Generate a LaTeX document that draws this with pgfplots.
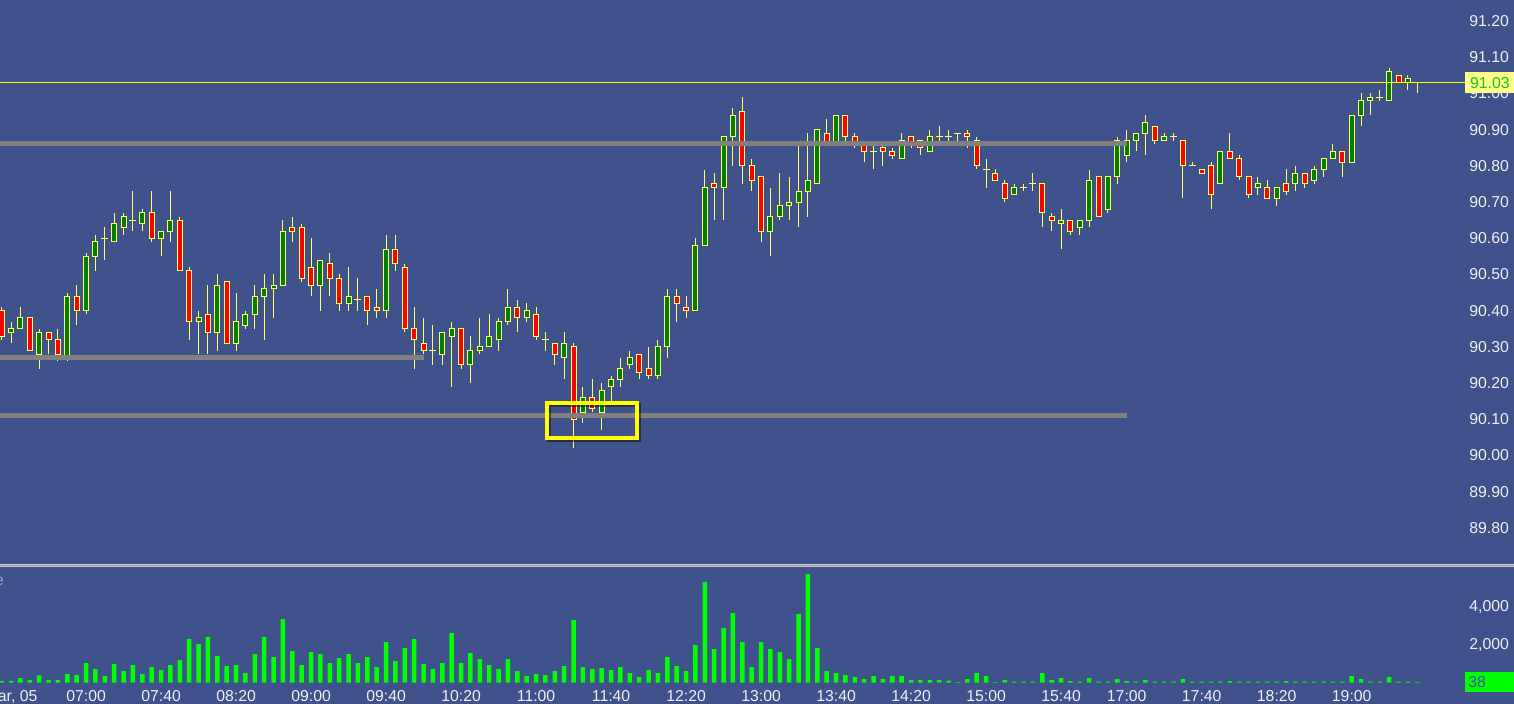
\documentclass[border=0pt]{standalone}
\usepackage{pgfplots}
\pgfplotsset{compat=1.18}
\usepackage{pgfplotstable}
\usepackage{fontspec}
\setmainfont{Liberation Sans}
\definecolor{bg}{RGB}{64,82,140}
\definecolor{wick}{RGB}{255,255,102}
\definecolor{cup}{RGB}{0,128,0}
\definecolor{cdn}{RGB}{255,0,0}
\definecolor{vol}{RGB}{0,255,0}
\definecolor{lvl}{RGB}{128,128,128}
\definecolor{hl}{RGB}{255,255,0}
\definecolor{lastbox}{RGB}{255,255,140}
\definecolor{lasttxt}{RGB}{20,200,20}
\definecolor{ticktxt}{RGB}{240,240,240}
\definecolor{voltxt}{RGB}{70,80,170}
\definecolor{voltag}{RGB}{150,160,200}
\definecolor{sepl}{RGB}{205,205,215}
\definecolor{sepd}{RGB}{150,150,165}

\pgfplotstableread{
i o h l c v
0 90.40 90.41 90.32 90.33 90
1 90.34 90.37 90.31 90.35 90
2 90.35 90.41 90.35 90.38 245
3 90.38 90.38 90.29 90.29 140
4 90.28 90.35 90.24 90.34 385
5 90.34 90.34 90.28 90.32 140
6 90.32 90.35 90.26 90.28 140
7 90.27 90.45 90.26 90.44 456
8 90.44 90.47 90.36 90.40 403
9 90.40 90.56 90.39 90.55 1035
10 90.55 90.61 90.51 90.59 719
11 90.60 90.63 90.54 90.60 351
12 90.59 90.67 90.59 90.64 982
13 90.63 90.67 90.61 90.66 614
14 90.65 90.73 90.62 90.65 930
15 90.64 90.68 90.62 90.67 456
16 90.67 90.73 90.59 90.60 824
17 90.60 90.62 90.55 90.62 667
18 90.62 90.73 90.59 90.65 930
19 90.65 90.66 90.51 90.51 1193
20 90.51 90.52 90.32 90.37 2298
21 90.37 90.40 90.28 90.38 2035
22 90.39 90.47 90.28 90.34 2403
23 90.34 90.50 90.29 90.47 1403
24 90.48 90.48 90.31 90.31 877
25 90.31 90.45 90.29 90.37 930
26 90.36 90.40 90.35 90.39 509
27 90.39 90.47 90.35 90.44 1508
28 90.44 90.50 90.32 90.46 2403
29 90.46 90.50 90.38 90.47 1351
30 90.47 90.65 90.47 90.62 3350
31 90.63 90.66 90.59 90.62 1666
32 90.63 90.64 90.48 90.49 930
33 90.52 90.60 90.44 90.47 1614
34 90.47 90.54 90.40 90.54 1508
35 90.53 90.56 90.44 90.49 1035
36 90.49 90.50 90.40 90.42 1298
37 90.42 90.52 90.40 90.44 1508
38 90.43 90.49 90.40 90.43 1035
39 90.44 90.44 90.36 90.40 1351
40 90.41 90.46 90.38 90.40 824
41 90.40 90.61 90.38 90.57 2140
42 90.57 90.61 90.51 90.53 1140
43 90.52 90.53 90.34 90.35 1824
44 90.35 90.41 90.24 90.32 2298
45 90.31 90.38 90.28 90.29 982
46 90.29 90.36 90.25 90.29 719
47 90.28 90.34 90.25 90.34 1035
48 90.33 90.37 90.19 90.35 2614
49 90.35 90.35 90.24 90.25 1035
50 90.25 90.33 90.20 90.29 1561
51 90.29 90.38 90.28 90.30 1245
52 90.30 90.39 90.30 90.33 930
53 90.32 90.38 90.29 90.37 719
54 90.37 90.46 90.36 90.41 1245
55 90.41 90.43 90.34 90.38 614
56 90.38 90.42 90.37 90.40 351
57 90.39 90.41 90.32 90.33 456
58 90.32 90.34 90.29 90.32 403
59 90.31 90.31 90.25 90.28 614
60 90.27 90.34 90.21 90.31 877
61 90.30 90.31 90.02 90.10 3298
62 90.12 90.19 90.09 90.16 824
63 90.16 90.21 90.12 90.13 719
64 90.12 90.20 90.07 90.18 772
65 90.19 90.22 90.15 90.21 667
66 90.21 90.27 90.19 90.24 824
67 90.25 90.29 90.24 90.27 509
68 90.28 90.28 90.21 90.23 298
69 90.24 90.30 90.21 90.22 667
70 90.22 90.32 90.21 90.30 509
71 90.30 90.46 90.27 90.44 1351
72 90.44 90.46 90.37 90.42 877
73 90.41 90.44 90.38 90.40 614
74 90.40 90.60 90.40 90.58 1982
75 90.58 90.79 90.58 90.74 5298
76 90.75 90.78 90.65 90.74 1772
77 90.74 90.88 90.65 90.88 2877
78 90.88 90.96 90.80 90.94 3666
79 90.95 90.99 90.75 90.80 2140
80 90.80 90.82 90.73 90.76 824
81 90.77 90.77 90.59 90.62 2140
82 90.62 90.74 90.55 90.66 1772
83 90.66 90.78 90.65 90.69 1614
84 90.69 90.77 90.65 90.70 1245
85 90.70 90.87 90.63 90.73 3613
86 90.73 90.89 90.66 90.76 5719
87 90.75 90.90 90.75 90.90 1824
88 90.89 90.93 90.86 90.86 614
89 90.86 90.94 90.86 90.94 509
90 90.94 90.94 90.86 90.88 403
91 90.88 90.89 90.85 90.86 298
92 90.86 90.86 90.81 90.84 193
93 90.84 90.86 90.79 90.84 351
94 90.85 90.86 90.80 90.84 193
95 90.84 90.85 90.82 90.83 351
96 90.82 90.89 90.82 90.87 351
97 90.88 90.88 90.85 90.86 140
98 90.87 90.87 90.83 90.85 140
99 90.84 90.90 90.84 90.88 140
100 90.88 90.91 90.87 90.88 140
101 90.88 90.90 90.87 90.88 105
102 90.89 90.89 90.87 90.89 35
103 90.89 90.90 90.85 90.88 193
104 90.87 90.88 90.79 90.80 509
105 90.79 90.82 90.74 90.79 351
106 90.78 90.79 90.76 90.76 35
107 90.75 90.76 90.70 90.71 140
108 90.72 90.75 90.72 90.74 50
109 90.74 90.75 90.73 90.74 50
110 90.75 90.78 90.73 90.75 50
111 90.75 90.75 90.63 90.67 509
112 90.66 90.67 90.62 90.65 140
113 90.64 90.68 90.57 90.65 245
114 90.65 90.65 90.61 90.62 88
115 90.63 90.65 90.61 90.65 50
116 90.65 90.79 90.63 90.76 245
117 90.77 90.77 90.66 90.66 50
118 90.68 90.77 90.67 90.77 50
119 90.77 90.88 90.75 90.87 193
120 90.83 90.90 90.81 90.87 88
121 90.87 90.89 90.84 90.89 50
122 90.89 90.94 90.83 90.92 140
123 90.91 90.91 90.86 90.87 50
124 90.87 90.89 90.87 90.88 50
125 90.88 90.89 90.87 90.88 50
126 90.87 90.87 90.71 90.80 193
127 90.80 90.81 90.80 90.80 50
128 90.79 90.79 90.78 90.78 50
129 90.80 90.81 90.68 90.72 50
130 90.75 90.84 90.75 90.84 50
131 90.84 90.89 90.82 90.82 88
132 90.82 90.83 90.76 90.77 50
133 90.77 90.77 90.71 90.72 50
134 90.74 90.77 90.72 90.75 50
135 90.74 90.76 90.71 90.71 50
136 90.71 90.74 90.69 90.74 50
137 90.75 90.79 90.72 90.73 88
138 90.75 90.80 90.73 90.78 50
139 90.78 90.78 90.74 90.75 50
140 90.76 90.80 90.75 90.79 50
141 90.79 90.82 90.77 90.82 50
142 90.82 90.86 90.82 90.84 50
143 90.84 90.84 90.77 90.81 50
144 90.81 90.94 90.81 90.94 351
145 90.94 91.00 90.91 90.98 193
146 90.98 91.00 90.94 90.99 50
147 90.99 91.01 90.98 90.99 50
148 90.98 91.07 90.98 91.06 298
149 91.05 91.05 91.03 91.03 50
150 91.03 91.05 91.01 91.04 50
151 91.03 91.03 91.00 91.03 38
}\candles

\newcommand\lblfont{\fontsize{7.9}{9}\selectfont}
\pgfplotsset{
  nomark/.style={only marks, mark=*, mark size=0pt, mark options={draw=none, fill=none}, forget plot},
  cndl/.style={nomark,
    error bars/y dir=plus, error bars/y explicit, error bars/error mark=none},
}

\begin{document}
\begin{tikzpicture}
\fill[bg] (0,0) rectangle (757pt,352pt);
\useasboundingbox (0,0) rectangle (757pt,352pt);
\fill[sepl] (0,68.35pt) rectangle (757pt,69.85pt);
\fill[sepd] (0,68.85pt) rectangle (757pt,69.35pt);

\begin{axis}[
  at={(0pt,69.5pt)}, anchor=south west,
  x=4.6875pt, y=181pt,
  xmin=-0.18, xmax=156.08, ymin=89.6975, ymax=91.2583,
  axis line style={draw=none}, tick style={draw=none}, major tick length=0pt,
  xtick=\empty,
  ytick={89.8,89.9,90,90.1,90.2,90.3,90.4,90.5,90.6,90.7,90.8,90.9,91,91.1,91.2},
  yticklabel pos=right,
  yticklabel style={anchor=west, inner sep=0pt, xshift=2pt, font=\lblfont, text=ticktxt,
     /pgf/number format/fixed, /pgf/number format/fixed zerofill,
     /pgf/number format/precision=2, /pgf/number format/assume math mode=true},
  extra y ticks={91.03},
  extra y tick style={yticklabel style={xshift=-2pt, fill=lastbox, text=lasttxt,
     minimum width=24.5pt, minimum height=10.5pt}},
]
% wicks
\addplot[cndl, error bars/error bar style={draw=wick, line width=0.5pt}]
  table[x=i, y=l, y error expr=\thisrow{h}-\thisrow{l}] {\candles};
% rising bodies
\addplot[cndl, error bars/error bar style={draw=wick, line width=3pt},
  restrict expr to domain={\thisrow{c}-\thisrow{o}}{0.005:5}]
  table[x=i, y expr=\thisrow{o}-0.00138, y error expr=\thisrow{c}-\thisrow{o}+0.00276] {\candles};
\addplot[cndl, error bars/error bar style={draw=cup, line width=2pt},
  restrict expr to domain={\thisrow{c}-\thisrow{o}}{0.005:5}]
  table[x=i, y expr=\thisrow{o}+0.00138, y error expr=\thisrow{c}-\thisrow{o}-0.00276] {\candles};
% falling bodies
\addplot[cndl, error bars/error bar style={draw=wick, line width=3pt},
  restrict expr to domain={\thisrow{o}-\thisrow{c}}{0.005:5}]
  table[x=i, y expr=\thisrow{c}-0.00138, y error expr=\thisrow{o}-\thisrow{c}+0.00276] {\candles};
\addplot[cndl, error bars/error bar style={draw=cdn, line width=2pt},
  restrict expr to domain={\thisrow{o}-\thisrow{c}}{0.005:5}]
  table[x=i, y expr=\thisrow{c}+0.00138, y error expr=\thisrow{o}-\thisrow{c}-0.00276] {\candles};
% doji
\addplot[nomark,
  restrict expr to domain={\thisrow{c}-\thisrow{o}}{-0.005:0.005},
  error bars/x dir=both, error bars/x explicit, error bars/error mark=none,
  error bars/error bar style={draw=wick, line width=0.5pt}]
  table[x=i, y=o, x error expr=0.373] {\candles};
% levels
\addplot[lvl, line width=2.6pt, no marks] coordinates {(-0.18,90.861) (120.03,90.861)};
\addplot[lvl, line width=2.6pt, no marks] coordinates {(-0.18,90.27) (45.05,90.27)};
\addplot[lvl, line width=2.6pt, no marks] coordinates {(-0.18,90.11) (120.03,90.11)};
\addplot[hl, line width=0.5pt, no marks] coordinates {(-0.18,91.03) (156.08,91.03)};
\draw[black, opacity=0.45, line width=2pt] ([xshift=1pt,yshift=-1pt]axis cs:58.17,90.145) rectangle ([xshift=1pt,yshift=-1pt]axis cs:67.77,90.048);
\draw[hl, line width=2pt] (axis cs:58.17,90.145) rectangle (axis cs:67.77,90.048);
\end{axis}

\begin{axis}[
  at={(0pt,10.65pt)}, anchor=south west,
  scale only axis, width=732.47pt, height=57.35pt,
  xmin=-0.18, xmax=156.08, ymin=0, ymax=6037,
  axis line style={draw=none}, tick style={draw=none}, major tick length=0pt,
  xtick={1,9,17,25,33,41,49,57,65,73,81,89,97,105,113,120,128,136,144},
  xticklabels={{Mar, 05},07:00,07:40,08:20,09:00,09:40,10:20,11:00,11:40,12:20,13:00,13:40,14:20,15:00,15:40,17:00,17:40,18:20,19:00},
  xticklabel style={anchor=north, inner sep=0pt, yshift=-3.65pt, font=\lblfont, text=ticktxt},
  ytick={2000,4000}, scaled y ticks=false, yticklabel pos=right,
  yticklabel style={anchor=west, inner sep=0pt, xshift=2pt, font=\lblfont, text=ticktxt,
     /pgf/number format/assume math mode=true},
  extra y ticks={38},
  extra y tick style={yticklabel style={xshift=-2pt, fill=vol, text=voltxt,
     inner xsep=1.5pt, text width=21.5pt, align=left, minimum height=9.65pt}},
  clip=false,
]
\addplot[ybar, bar width=2.25pt, fill=vol, draw=none] table[x=i, y=v] {\candles};
\end{axis}

\node[anchor=base east, font=\lblfont, text=voltag, inner sep=0pt] at (2.2pt,59pt) {Volume};
\end{tikzpicture}
\end{document}
